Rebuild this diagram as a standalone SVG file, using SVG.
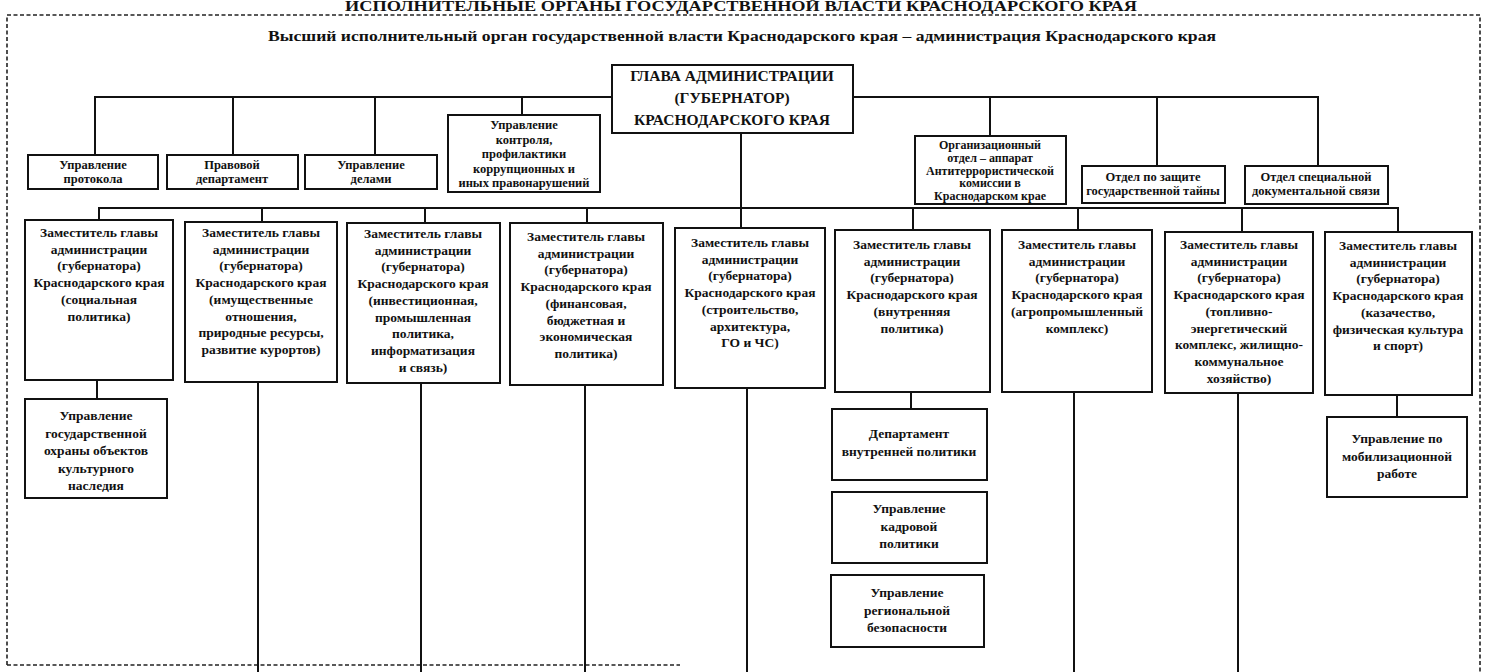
<svg xmlns="http://www.w3.org/2000/svg" width="1486" height="672" viewBox="0 0 1486 672">
<style>
text{font-family:"Liberation Serif","Times New Roman",serif;font-weight:bold;fill:#111;text-anchor:middle}
.t{font-size:13.5px}
.s{font-size:12.5px}
.o{font-size:12px}
.g{font-size:15.5px}
.h{font-size:14.5px}
.ti{font-size:14px}
.box{fill:#fff;stroke:#111;stroke-width:2}
.ln{stroke:#111;stroke-width:2;fill:none}
.frame{stroke:#222;stroke-width:1.6;fill:none;stroke-dasharray:4 2.5}
</style>
<rect width="1486" height="672" fill="#fff"/>
<text class="ti" x="741" y="11" textLength="792" lengthAdjust="spacingAndGlyphs">ИСПОЛНИТЕЛЬНЫЕ ОРГАНЫ ГОСУДАРСТВЕННОЙ ВЛАСТИ КРАСНОДАРСКОГО КРАЯ</text>
<g id="frame">
<polyline class="frame" points="7,665 7,15 1480,15 1480,672"/>
<line class="frame" x1="7" y1="665" x2="680" y2="665"/>
</g>
<text class="h" x="742" y="41" textLength="948" lengthAdjust="spacingAndGlyphs">Высший исполнительный орган государственной власти Краснодарского края – администрация Краснодарского края</text>
<g id="connectors">
<polyline class="ln" points="95,155 95,97 1318,97 1318,166"/>
<line class="ln" x1="233" y1="97" x2="233" y2="155"/>
<line class="ln" x1="375" y1="97" x2="375" y2="155"/>
<line class="ln" x1="522" y1="97" x2="522" y2="115"/>
<line class="ln" x1="990" y1="97" x2="990" y2="136"/>
<line class="ln" x1="1157" y1="97" x2="1157" y2="166"/>
<line class="ln" x1="741" y1="132" x2="741" y2="228"/>
<polyline class="ln" points="99,220 99,208 1398,208 1398,232"/>
<line class="ln" x1="262" y1="208" x2="262" y2="222"/>
<line class="ln" x1="425" y1="208" x2="425" y2="223"/>
<line class="ln" x1="587" y1="208" x2="587" y2="223"/>
<line class="ln" x1="913" y1="208" x2="913" y2="230"/>
<line class="ln" x1="1078" y1="208" x2="1078" y2="230"/>
<line class="ln" x1="1242" y1="208" x2="1242" y2="232"/>
<line class="ln" x1="97" y1="380" x2="97" y2="399"/>
<line class="ln" x1="258" y1="382" x2="258" y2="672"/>
<line class="ln" x1="421" y1="383" x2="421" y2="672"/>
<line class="ln" x1="585" y1="385" x2="585" y2="672"/>
<line class="ln" x1="747" y1="388" x2="747" y2="672"/>
<line class="ln" x1="911" y1="392" x2="911" y2="409"/>
<line class="ln" x1="1074" y1="392" x2="1074" y2="672"/>
<line class="ln" x1="1238" y1="393" x2="1238" y2="672"/>
<line class="ln" x1="1397" y1="395" x2="1397" y2="417"/>
</g>
<g id="glava">
<rect class="box" x="612" y="65" width="241" height="68"/>
<text class="g" x="732" y="81">ГЛАВА АДМИНИСТРАЦИИ</text>
<text class="g" x="732" y="103">(ГУБЕРНАТОР)</text>
<text class="g" x="732" y="125">КРАСНОДАРСКОГО КРАЯ</text>
</g>
<g id="protokol">
<rect class="box" x="28" y="155" width="130" height="34"/>
<text class="s" x="93" y="169"><tspan x="93">Управление</tspan><tspan x="93" dy="14">протокола</tspan></text>
</g>
<g id="pravovoy">
<rect class="box" x="167" y="155" width="131" height="34"/>
<text class="s" x="232" y="169"><tspan x="232">Правовой</tspan><tspan x="232" dy="14">департамент</tspan></text>
</g>
<g id="delami">
<rect class="box" x="305" y="155" width="132" height="34"/>
<text class="s" x="371" y="169"><tspan x="371">Управление</tspan><tspan x="371" dy="14">делами</tspan></text>
</g>
<g id="kontrol">
<rect class="box" x="448" y="115" width="152" height="77"/>
<text class="s" x="524" y="129"><tspan x="524">Управление</tspan><tspan x="524" dy="14.5">контроля,</tspan><tspan x="524" dy="14.5">профилактики</tspan><tspan x="524" dy="14.5">коррупционных и</tspan><tspan x="524" dy="14.5">иных правонарушений</tspan></text>
</g>
<g id="org">
<rect class="box" x="915" y="136" width="151" height="68"/>
<text class="o" x="990" y="149"><tspan x="990">Организационный</tspan><tspan x="990" dy="12.8">отдел – аппарат</tspan><tspan x="990" dy="12.8">Антитеррористической</tspan><tspan x="990" dy="12.8">комиссии в</tspan><tspan x="990" dy="12.8">Краснодарском крае</tspan></text>
</g>
<g id="tayna">
<rect class="box" x="1082" y="166" width="143" height="37"/>
<text class="s" x="1153" y="181"><tspan x="1153">Отдел по защите</tspan><tspan x="1153" dy="14">государственной тайны</tspan></text>
</g>
<g id="spec">
<rect class="box" x="1245" y="166" width="143" height="38"/>
<text class="s" x="1316" y="181"><tspan x="1316">Отдел специальной</tspan><tspan x="1316" dy="14">документальной связи</tspan></text>
</g>
<g id="dep1">
<rect class="box" x="25" y="220" width="148" height="160"/>
<text class="t" x="99" y="237"><tspan x="99">Заместитель главы</tspan><tspan x="99" dy="16.7">администрации</tspan><tspan x="99" dy="16.7">(губернатора)</tspan><tspan x="99" dy="16.7">Краснодарского края</tspan><tspan x="99" dy="16.7">(социальная</tspan><tspan x="99" dy="16.7">политика)</tspan></text>
</g>
<g id="dep2">
<rect class="box" x="185" y="222" width="152" height="160"/>
<text class="t" x="261" y="237"><tspan x="261">Заместитель главы</tspan><tspan x="261" dy="16.7">администрации</tspan><tspan x="261" dy="16.7">(губернатора)</tspan><tspan x="261" dy="16.7">Краснодарского края</tspan><tspan x="261" dy="16.7">(имущественные</tspan><tspan x="261" dy="16.7">отношения,</tspan><tspan x="261" dy="16.7">природные ресурсы,</tspan><tspan x="261" dy="16.7">развитие курортов)</tspan></text>
</g>
<g id="dep3">
<rect class="box" x="347" y="223" width="153" height="160"/>
<text class="t" x="423" y="238"><tspan x="423">Заместитель главы</tspan><tspan x="423" dy="16.7">администрации</tspan><tspan x="423" dy="16.7">(губернатора)</tspan><tspan x="423" dy="16.7">Краснодарского края</tspan><tspan x="423" dy="16.7">(инвестиционная,</tspan><tspan x="423" dy="16.7">промышленная</tspan><tspan x="423" dy="16.7">политика,</tspan><tspan x="423" dy="16.7">информатизация</tspan><tspan x="423" dy="16.7">и связь)</tspan></text>
</g>
<g id="dep4">
<rect class="box" x="510" y="223" width="153" height="162"/>
<text class="t" x="586" y="241"><tspan x="586">Заместитель главы</tspan><tspan x="586" dy="16.7">администрации</tspan><tspan x="586" dy="16.7">(губернатора)</tspan><tspan x="586" dy="16.7">Краснодарского края</tspan><tspan x="586" dy="16.7">(финансовая,</tspan><tspan x="586" dy="16.7">бюджетная и</tspan><tspan x="586" dy="16.7">экономическая</tspan><tspan x="586" dy="16.7">политика)</tspan></text>
</g>
<g id="dep5">
<rect class="box" x="675" y="228" width="150" height="160"/>
<text class="t" x="750" y="247"><tspan x="750">Заместитель главы</tspan><tspan x="750" dy="16.7">администрации</tspan><tspan x="750" dy="16.7">(губернатора)</tspan><tspan x="750" dy="16.7">Краснодарского края</tspan><tspan x="750" dy="16.7">(строительство,</tspan><tspan x="750" dy="16.7">архитектура,</tspan><tspan x="750" dy="16.7">ГО и ЧС)</tspan></text>
</g>
<g id="dep6">
<rect class="box" x="835" y="230" width="155" height="162"/>
<text class="t" x="912" y="249"><tspan x="912">Заместитель главы</tspan><tspan x="912" dy="16.7">администрации</tspan><tspan x="912" dy="16.7">(губернатора)</tspan><tspan x="912" dy="16.7">Краснодарского края</tspan><tspan x="912" dy="16.7">(внутренняя</tspan><tspan x="912" dy="16.7">политика)</tspan></text>
</g>
<g id="dep7">
<rect class="box" x="1002" y="230" width="150" height="162"/>
<text class="t" x="1077" y="249"><tspan x="1077">Заместитель главы</tspan><tspan x="1077" dy="16.7">администрации</tspan><tspan x="1077" dy="16.7">(губернатора)</tspan><tspan x="1077" dy="16.7">Краснодарского края</tspan><tspan x="1077" dy="16.7">(агропромышленный</tspan><tspan x="1077" dy="16.7">комплекс)</tspan></text>
</g>
<g id="dep8">
<rect class="box" x="1165" y="232" width="148" height="161"/>
<text class="t" x="1239" y="249"><tspan x="1239">Заместитель главы</tspan><tspan x="1239" dy="16.7">администрации</tspan><tspan x="1239" dy="16.7">(губернатора)</tspan><tspan x="1239" dy="16.7">Краснодарского края</tspan><tspan x="1239" dy="16.7">(топливно-</tspan><tspan x="1239" dy="16.7">энергетический</tspan><tspan x="1239" dy="16.7">комплекс, жилищно-</tspan><tspan x="1239" dy="16.7">коммунальное</tspan><tspan x="1239" dy="16.7">хозяйство)</tspan></text>
</g>
<g id="dep9">
<rect class="box" x="1325" y="232" width="147" height="163"/>
<text class="t" x="1398" y="250"><tspan x="1398">Заместитель главы</tspan><tspan x="1398" dy="16.7">администрации</tspan><tspan x="1398" dy="16.7">(губернатора)</tspan><tspan x="1398" dy="16.7">Краснодарского края</tspan><tspan x="1398" dy="16.7">(казачество,</tspan><tspan x="1398" dy="16.7">физическая культура</tspan><tspan x="1398" dy="16.7">и спорт)</tspan></text>
</g>
<g id="nasledie">
<rect class="box" x="25" y="399" width="142" height="99"/>
<text class="t" x="96" y="420"><tspan x="96">Управление</tspan><tspan x="96" dy="17.6">государственной</tspan><tspan x="96" dy="17.6">охраны объектов</tspan><tspan x="96" dy="17.6">культурного</tspan><tspan x="96" dy="17.6">наследия</tspan></text>
</g>
<g id="vnutr">
<rect class="box" x="832" y="409" width="155" height="71"/>
<text class="t" x="909" y="438"><tspan x="909">Департамент</tspan><tspan x="909" dy="18">внутренней политики</tspan></text>
</g>
<g id="kadry">
<rect class="box" x="832" y="492" width="155" height="71"/>
<text class="t" x="909" y="513"><tspan x="909">Управление</tspan><tspan x="909" dy="17.5">кадровой</tspan><tspan x="909" dy="17.5">политики</tspan></text>
</g>
<g id="region">
<rect class="box" x="831" y="575" width="153" height="72"/>
<text class="t" x="907" y="597"><tspan x="907">Управление</tspan><tspan x="907" dy="17.5">региональной</tspan><tspan x="907" dy="17.5">безопасности</tspan></text>
</g>
<g id="mob">
<rect class="box" x="1327" y="417" width="140" height="80"/>
<text class="t" x="1397" y="443"><tspan x="1397">Управление по</tspan><tspan x="1397" dy="17.5">мобилизационной</tspan><tspan x="1397" dy="17.5">работе</tspan></text>
</g>
</svg>
